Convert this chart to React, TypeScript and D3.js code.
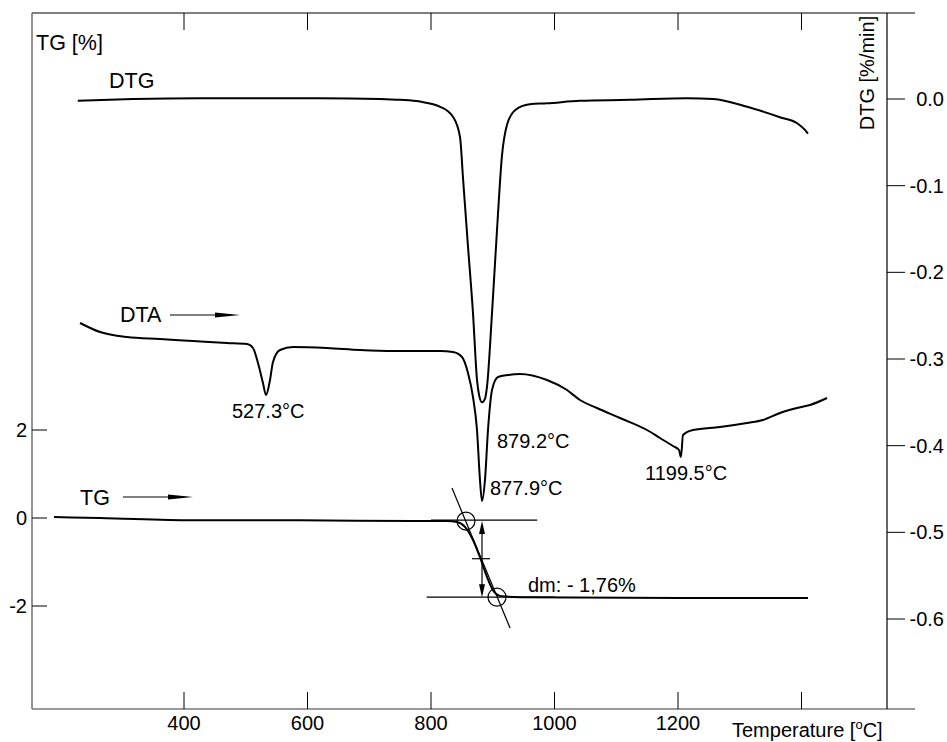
import * as d3 from "d3"

// thermal analysis readings: [temperature °C, value]
const dtgPoints: [number, number][] = [
  [228, -0.002], [317, 0.0], [426, 0.001], [620, 0.001], [717, 0.0], [750, -0.001],
  [782, -0.003], [815, -0.009], [836, -0.021], [847, -0.044], [852, -0.093], [860, -0.171],
  [868, -0.247], [874.5, -0.324], [878, -0.342], [882.6, -0.35], [887.4, -0.346],
  [890.7, -0.332], [898.8, -0.247], [906.9, -0.151], [915, -0.065], [923, -0.03],
  [936, -0.013], [960, -0.006], [988, -0.005], [1041, -0.002], [1122, -0.001],
  [1215, 0.001], [1257, 0.0], [1312, -0.009], [1365, -0.021], [1393, -0.028],
  [1406, -0.036], [1410.5, -0.04],
]

// DTA has no scale in the picture, arbitrary units
const dtaPoints: [number, number][] = [
  [231.6, -1.15], [264, -1.6], [307.7, -1.85], [361, -1.95], [414.6, -2.05], [469.6, -2.15],
  [502, -2.2], [511.7, -2.4], [519.8, -3.15], [527.9, -4.15], [532.8, -4.75], [539.3, -4.0],
  [544.1, -3.1], [555.5, -2.5], [576.5, -2.35], [631.6, -2.4], [685, -2.5], [738.4, -2.55],
  [814.6, -2.55], [835.6, -2.6], [850.2, -2.85], [859.9, -3.65], [868, -4.85], [874.5, -6.5],
  [879.3, -9.0], [882.6, -10.05], [887.4, -9.0], [892.3, -6.5], [898.8, -4.5], [908.5, -3.85],
  [924.7, -3.75], [944.1, -3.7], [987.8, -4.0], [1020.2, -4.5], [1041.3, -5.0],
  [1068.8, -5.4], [1106.1, -5.9], [1149.8, -6.5], [1170.8, -6.9], [1191.9, -7.3],
  [1201.6, -7.5], [1204.8, -7.85], [1208.1, -6.75], [1224.3, -6.5], [1268, -6.35],
  [1311.7, -6.15], [1337.7, -6.0], [1365.2, -5.65], [1392.7, -5.4], [1413.8, -5.25],
  [1441.3, -4.9],
]

const tgPoints: [number, number][] = [
  [189.5, 0.02], [264, 0.0], [414.6, -0.05], [587.9, -0.05], [770.8, -0.07], [825.9, -0.07],
  [842.1, -0.09], [855, -0.2], [868, -0.5], [879.3, -0.89], [890.7, -1.34], [900.4, -1.64],
  [911.7, -1.77], [944.1, -1.8], [1203.2, -1.82], [1410.5, -1.82],
]

const tempTicks = [400, 600, 800, 1000, 1200, 1400]
const tempLabels = [400, 600, 800, 1000, 1200]
const tgTicks = [2, 0, -2]
const dtgTicks = [0, -0.1, -0.2, -0.3, -0.4, -0.5, -0.6]

// mass step construction
const stepUpper = -0.05
const stepLower = -1.8
const stepOnset: [number, number] = [856.6, -0.07]
const stepEnd: [number, number] = [906.9, -1.8]
const tangent: [number, number][] = [[834, 0.68], [928, -2.5]]
const stepArrowT = 882.6

const W = 947
const H = 742
const left = 32
const right = 887
const top = 13
const bottom = 709
const font = "'Liberation Sans', Arial, Helvetica, sans-serif"

export default function App() {
  const x = d3.scaleLinear().domain([400, 1200]).range([184, 678])
  const yTG = d3.scaleLinear().domain([2, -2]).range([430, 606])
  const yDTG = d3.scaleLinear().domain([0, -0.6]).range([99, 619])
  const yDTA = d3.scaleLinear().domain([0, -10]).range([300, 500])

  const lineOf = (y: d3.ScaleLinear<number, number>) =>
    d3
      .line<[number, number]>()
      .x((d) => x(d[0]))
      .y((d) => y(d[1]))
      .curve(d3.curveMonotoneX)

  const seg = (a: [number, number], b: [number, number]) =>
    d3.line<[number, number]>().x((d) => x(d[0])).y((d) => yTG(d[1]))([a, b]) ?? ""

  const ax = x(stepArrowT)
  const ay1 = yTG(stepOnset[1])
  const ay2 = yTG(stepEnd[1])
  const mid = yTG((stepUpper + stepLower) / 2)

  const arrowRight = (x0: number, x1: number, y: number) => (
    <g>
      <line x1={x0} x2={x1 - 20} y1={y} y2={y} stroke="#000" strokeWidth={1} />
      <path d={`M${x1 - 25},${y - 2.6} L${x1},${y} L${x1 - 25},${y + 2.6} Z`} fill="#000" />
    </g>
  )

  return (
    <svg
      width={W}
      height={H}
      style={{ position: "absolute", left: 0, top: 0, background: "#fff" }}
      fontFamily={font}
    >
      {/* frame */}
      <line x1={left} x2={915} y1={top} y2={top} stroke="#000" strokeWidth={1.2} />
      <line x1={left} x2={915} y1={bottom} y2={bottom} stroke="#777" strokeWidth={1.6} />
      <line x1={left} x2={left} y1={top} y2={bottom} stroke="#666" strokeWidth={1.4} />
      <line x1={right} x2={right} y1={top} y2={bottom} stroke="#000" strokeWidth={1.2} />

      {/* temperature ticks */}
      {tempTicks.map((t) => (
        <g key={t}>
          <line x1={x(t)} x2={x(t)} y1={top} y2={top + 17} stroke="#000" />
          <line x1={x(t)} x2={x(t)} y1={bottom} y2={bottom - 17} stroke="#000" />
        </g>
      ))}
      {tempLabels.map((t) => (
        <text key={t} x={x(t)} y={730} fontSize={20} textAnchor="middle">
          {t}
        </text>
      ))}
      <text x={732} y={737} fontSize={20}>
        <tspan>Temperature [</tspan>
        <tspan fontSize={13} dy={-8}>o</tspan>
        <tspan dy={8}>C]</tspan>
      </text>

      {/* TG axis */}
      {tgTicks.map((v) => (
        <g key={v}>
          <line x1={left} x2={left + 15} y1={yTG(v)} y2={yTG(v)} stroke="#000" />
          <text x={27} y={yTG(v) + 7} fontSize={20} textAnchor="end">
            {v}
          </text>
        </g>
      ))}
      <text x={36} y={50} fontSize={21.5}>
        TG [%]
      </text>

      {/* DTG axis */}
      {dtgTicks.map((v) => (
        <g key={v}>
          <line x1={right} x2={right + 18} y1={yDTG(v)} y2={yDTG(v)} stroke="#000" />
          <text x={944} y={yDTG(v) + 7} fontSize={20} textAnchor="end">
            {v.toFixed(1)}
          </text>
        </g>
      ))}
      <text
        transform="translate(874,73) rotate(-90)"
        fontSize={20}
        textAnchor="middle"
      >
        DTG [%/min]
      </text>

      {/* curves */}
      <path d={lineOf(yDTG)(dtgPoints) ?? ""} fill="none" stroke="#000" strokeWidth={2} />
      <path d={lineOf(yDTA)(dtaPoints) ?? ""} fill="none" stroke="#000" strokeWidth={2} />
      <path d={lineOf(yTG)(tgPoints) ?? ""} fill="none" stroke="#000" strokeWidth={2} />

      {/* step evaluation */}
      <g stroke="#000" strokeWidth={1.2} fill="none">
        <path d={seg([800, stepUpper], [972, stepUpper])} />
        <path d={seg([793, stepLower], [1000, stepLower])} />
        <path d={seg(tangent[0], tangent[1])} />
        <circle cx={x(stepOnset[0])} cy={yTG(stepOnset[1])} r={9} />
        <circle cx={x(stepEnd[0])} cy={yTG(stepEnd[1])} r={9} />
        <line x1={ax} x2={ax} y1={ay1 + 10} y2={ay2 - 10} />
        <line x1={ax - 10} x2={ax + 8} y1={mid} y2={mid} />
      </g>
      <path d={`M${ax},${ay1} L${ax - 3},${ay1 + 13} L${ax + 3},${ay1 + 13} Z`} fill="#000" />
      <path d={`M${ax},${ay2} L${ax - 3},${ay2 - 13} L${ax + 3},${ay2 - 13} Z`} fill="#000" />

      {/* labels */}
      <text x={109} y={88} fontSize={21.5}>DTG</text>
      <text x={120} y={322} fontSize={21.5}>DTA</text>
      {arrowRight(170, 240, 315)}
      <text x={80} y={505} fontSize={21.5}>TG</text>
      {arrowRight(123, 193, 497)}

      <text x={232} y={418} fontSize={20}>527.3°C</text>
      <text x={497} y={448} fontSize={20}>879.2°C</text>
      <text x={490} y={495} fontSize={20}>877.9°C</text>
      <text x={645} y={480} fontSize={20}>1199.5°C</text>
      <text x={528} y={592} fontSize={20}>dm: - 1,76%</text>
    </svg>
  )
}
